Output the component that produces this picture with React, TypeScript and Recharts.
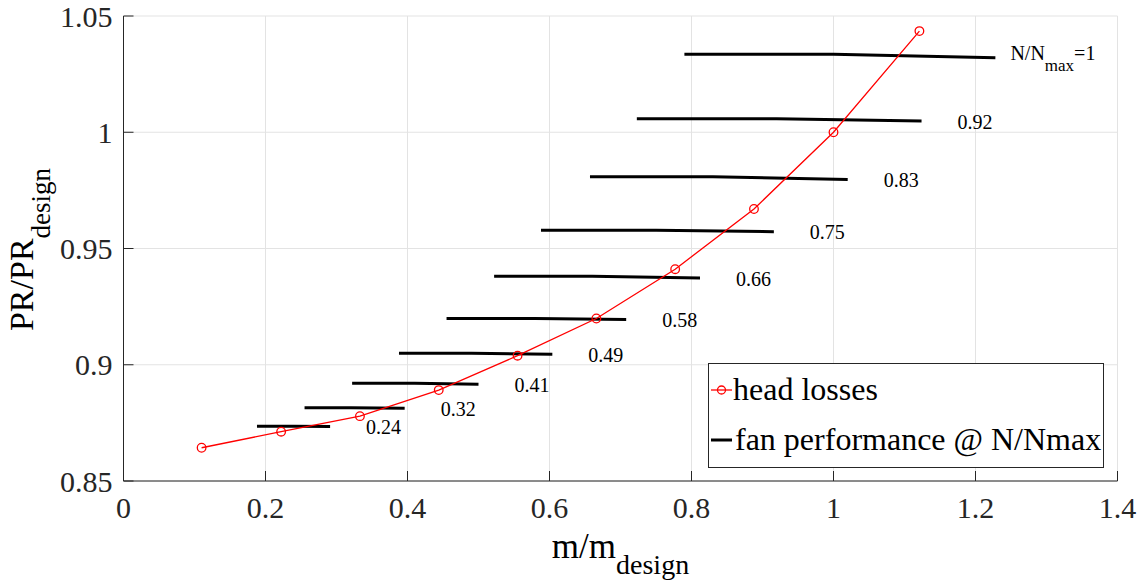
import React from "react";
import { LineChart, Line, XAxis, YAxis, CartesianGrid } from "recharts";

// head losses curve (red, circles)
const headX = [0.11, 0.222, 0.333, 0.444, 0.555, 0.666, 0.777, 0.888, 1.0, 1.121];
const headY = [0.8643, 0.8712, 0.8779, 0.8891, 0.9039, 0.9199, 0.9411, 0.967, 1.0, 1.0435];

// fan performance lines, one per N/Nmax
const speedLabels = ["1", "0.92", "0.83", "0.75", "0.66", "0.58", "0.49", "0.41", "0.32", "0.24"];
const fanStartX = [0.79, 0.723, 0.657, 0.588, 0.522, 0.455, 0.388, 0.322, 0.255, 0.188];
const fanMidX = [1.0, 0.92, 0.83, 0.75, 0.66, 0.58, 0.49, 0.41, 0.32, 0.24];
const fanEndX = [1.228, 1.124, 1.02, 0.916, 0.812, 0.708, 0.604, 0.5, 0.396, 0.291];
const fanStartY = [1.0335, 1.0058, 0.9809, 0.9579, 0.9381, 0.9199, 0.9049, 0.892, 0.8815, 0.8735];
const fanEndY = [1.032, 1.0048, 0.9797, 0.9572, 0.9373, 0.9195, 0.9045, 0.8916, 0.8813, 0.8734];

const xTicks = [0, 0.2, 0.4, 0.6, 0.8, 1, 1.2, 1.4];
const yTicks = [0.85, 0.9, 0.95, 1, 1.05];

const FONT = '"Liberation Serif", "Times New Roman", serif';
const AXIS = "#262626";

const headData = headX.map((x, i) => ({ x, y: headY[i] }));
const fanSeries = speedLabels.map((name, i) => ({
  name,
  points: [
    { x: fanStartX[i], y: fanStartY[i] },
    { x: fanMidX[i], y: fanStartY[i] },
    { x: fanEndX[i], y: fanEndY[i] },
  ],
}));

function fanLabel(name: string, last: number) {
  return (props: any) => {
    if (props.index !== last) return null;
    const x = props.x ?? props.viewBox?.x;
    const y = props.y ?? props.viewBox?.y;
    if (name === "1") {
      return (
        <text x={x + 15} y={y + 2} fontFamily={FONT} fontSize={20} fill="#000">
          <tspan>N/N</tspan>
          <tspan fontSize={17} dy={11}>max</tspan>
          <tspan dy={-11}>=1</tspan>
        </text>
      );
    }
    return (
      <text x={x + 36} y={y + 7.5} fontFamily={FONT} fontSize={20} fill="#000">
        {name}
      </text>
    );
  };
}

function XTick(props: any) {
  const { x, y, payload } = props;
  return (
    <text x={x} y={y} dy="0.71em" textAnchor="middle" fontFamily={FONT} fontSize={30} fill={AXIS}>
      {payload.value}
    </text>
  );
}

function YTick(props: any) {
  const { x, y, payload } = props;
  return (
    <text x={x} y={y} dy="0.355em" textAnchor="end" fontFamily={FONT} fontSize={30} fill={AXIS}>
      {payload.value}
    </text>
  );
}

function XLabel(props: any) {
  const vb = props.viewBox;
  return (
    <text x={vb.x + vb.width / 2} y={558} textAnchor="middle" fontFamily={FONT} fill="#000">
      <tspan fontSize={35}>m/m</tspan>
      <tspan fontSize={28} dy={16}>design</tspan>
    </text>
  );
}

function YLabel(props: any) {
  const vb = props.viewBox;
  const cy = vb.y + vb.height / 2 + 1;
  return (
    <text transform="rotate(-90)" x={-cy} y={33} textAnchor="middle" fontFamily={FONT} fill="#000">
      <tspan fontSize={34}>PR/PR</tspan>
      <tspan fontSize={27} dy={17}>design</tspan>
    </text>
  );
}

function LegendBox() {
  return (
    <svg
      width={397}
      height={106}
      style={{ position: "absolute", left: 708, top: 363 }}
    >
      <rect x={0.5} y={0.5} width={395} height={104} fill="#fff" stroke={AXIS} strokeWidth={1} />
      <line x1={3} x2={24} y1={27} y2={27} stroke="#ff0000" strokeWidth={1.3} />
      <circle cx={13.5} cy={27} r={4} fill="none" stroke="#ff0000" strokeWidth={1.3} />
      <text x={25} y={37} fontFamily={FONT} fontSize={32} fill="#000">head losses</text>
      <line x1={3} x2={24} y1={77} y2={77} stroke="#000" strokeWidth={3} />
      <text x={27} y={87} fontFamily={FONT} fontSize={32} fill="#000">fan performance @ N/Nmax</text>
    </svg>
  );
}

export default function App() {
  return (
    <div style={{ position: "absolute", left: 0, top: 0, width: 1143, height: 585, background: "#fff", fontFamily: FONT }}>
      <LineChart
        width={1143}
        height={585}
        margin={{ top: 16, right: 25.5, bottom: 74, left: 63.5 }}
      >
        <CartesianGrid stroke="#e3e3e3" strokeWidth={1} />
        <XAxis
          type="number"
          dataKey="x"
          domain={[0, 1.4]}
          ticks={xTicks}
          allowDataOverflow
          height={30}
          tick={<XTick />}
          tickSize={-10}
          tickMargin={26}
          axisLine={{ stroke: AXIS }}
          tickLine={{ stroke: AXIS }}
          label={{ content: XLabel }}
        />
        <YAxis
          type="number"
          dataKey="y"
          domain={[0.85, 1.05]}
          ticks={yTicks}
          allowDataOverflow
          width={60}
          tick={<YTick />}
          tickSize={-10}
          tickMargin={21}
          axisLine={{ stroke: AXIS }}
          tickLine={{ stroke: AXIS }}
          label={{ content: YLabel }}
        />
        {fanSeries.map((s) => (
          <Line
            key={s.name}
            data={s.points}
            dataKey="y"
            type="linear"
            stroke="#000"
            strokeWidth={3}
            dot={false}
            activeDot={false}
            isAnimationActive={false}
            label={fanLabel(s.name, s.points.length - 1)}
          />
        ))}
        <Line
          data={headData}
          dataKey="y"
          type="linear"
          stroke="#ff0000"
          strokeWidth={1.3}
          dot={{ r: 4.3, stroke: "#ff0000", strokeWidth: 1.3, fill: "none" }}
          activeDot={false}
          isAnimationActive={false}
        />
      </LineChart>
      <LegendBox />
    </div>
  );
}
